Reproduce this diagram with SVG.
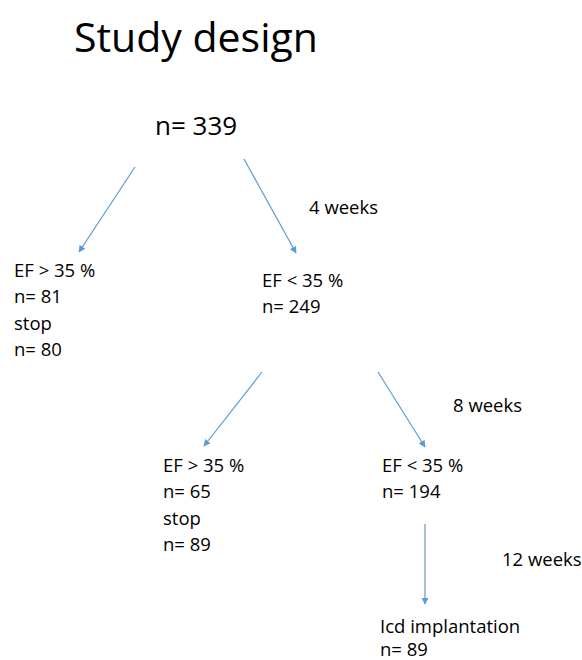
<svg xmlns="http://www.w3.org/2000/svg" width="582" height="660" viewBox="0 0 582 660">
<style>
text{font-family:"Open Sans","Liberation Sans",sans-serif;fill:#000}
.t{font-size:18.5px}
.c line{stroke:#5B9BD5;stroke-width:1.2;fill:none;marker-end:url(#ah)}
</style>
<defs>
<marker id="ah" viewBox="0 0 10 10" refX="9" refY="5" markerWidth="7" markerHeight="7" markerUnits="userSpaceOnUse" orient="auto">
<path d="M0,0 L10,5 L0,10 z" fill="#5B9BD5"/>
</marker>
</defs>
<rect width="582" height="660" fill="#fff"/>
<g id="title"><text x="74" y="52" style="font-size:41px">Study design</text></g>
<g id="root"><text x="155" y="135" style="font-size:26px">n= 339</text></g>
<g id="left1"><text class="t" x="14" y="277">EF &gt; 35 %</text><text class="t" x="14" y="303">n= 81</text><text class="t" x="14" y="330">stop</text><text class="t" x="14" y="356">n= 80</text></g>
<g id="right1"><text class="t" x="262" y="287">EF &lt; 35 %</text><text class="t" x="262" y="313">n= 249</text></g>
<g id="left2"><text class="t" x="163" y="472">EF &gt; 35 %</text><text class="t" x="163" y="498">n= 65</text><text class="t" x="163" y="525">stop</text><text class="t" x="163" y="551">n= 89</text></g>
<g id="right2"><text class="t" x="382" y="472">EF &lt; 35 %</text><text class="t" x="382" y="498">n= 194</text></g>
<g id="icd"><text class="t" x="380" y="633">Icd implantation</text><text class="t" x="380" y="656">n= 89</text></g>
<g id="labels"><text class="t" x="309" y="214">4 weeks</text><text class="t" x="453" y="412">8 weeks</text><text class="t" x="502" y="566">12 weeks</text></g>
<g id="connectors" class="c">
<line x1="135" y1="167" x2="79" y2="252"/>
<line x1="244" y1="159" x2="296" y2="253"/>
<line x1="262" y1="372" x2="204" y2="446"/>
<line x1="378" y1="372" x2="425" y2="447"/>
<line x1="425" y1="524" x2="425" y2="604"/>
</g>
</svg>
